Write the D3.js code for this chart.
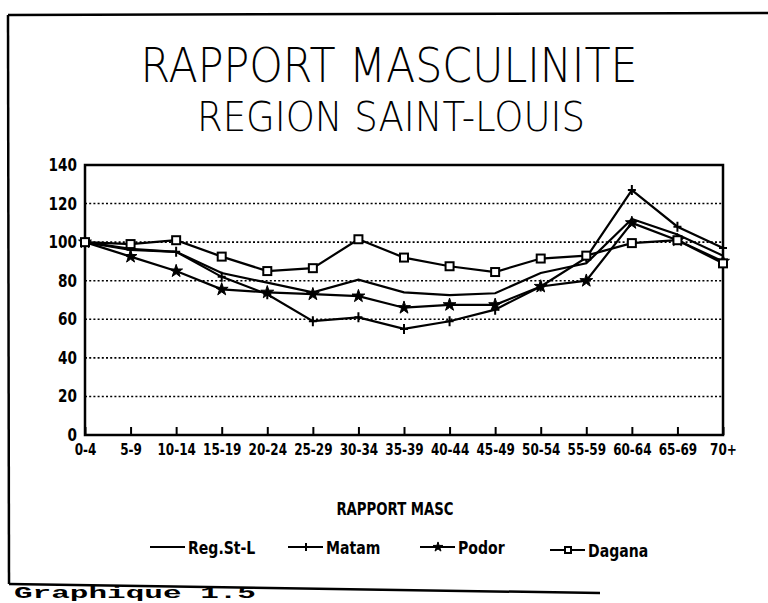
<!DOCTYPE html>
<html>
<head>
<meta charset="utf-8">
<script src="https://cdn.jsdelivr.net/npm/d3@7.9.0/dist/d3.min.js"></script>
<style>
  html, body { margin: 0; padding: 0; background: #fff; }
  svg { display: block; }
</style>
</head>
<body>
<div id="chart"></div>
<script>
"use strict";

// age groups (x axis)
const AGES = ["0-4", "5-9", "10-14", "15-19", "20-24", "25-29", "30-34", "35-39",
    "40-44", "45-49", "50-54", "55-59", "60-64", "65-69", "70+"];

// values
const REG_STL = [100, 96.5, 95, 84, 79, 74, 80.5, 74, 72.5, 73.5, 84, 89, 112, 104, 93];
const MATAM   = [100, 96, 95, 82, 73, 59, 61, 55, 59, 65, 77, 92, 127, 108, 97];
const PODOR   = [100, 92.5, 85, 75.5, 74, 73, 72, 66, 67.5, 67.5, 77, 80, 110, 101, 90];
const DAGANA  = [100, 99, 101, 92.5, 85, 86.5, 101.5, 92, 87.5, 84.5, 91.5, 93, 99.5, 101, 89];

const Y_TICKS = [0, 20, 40, 60, 80, 100, 120, 140];

const SERIES = [
    { name: "Reg.St-L", values: REG_STL, marker: "none" },
    { name: "Matam", values: MATAM, marker: "plus" },
    { name: "Podor", values: PODOR, marker: "star" },
    { name: "Dagana", values: DAGANA, marker: "square" },
];

const W = 768, H = 603;
const margin = { top: 165, right: 45, bottom: 168, left: 85 };
const width = W - margin.left - margin.right;
const height = H - margin.top - margin.bottom;

const LABEL_FONT = "'DejaVu Sans', sans-serif";
const TITLE_FONT = "'DejaVu Sans', sans-serif";

// squeeze bold labels horizontally to imitate the narrow plotter font
function condense(sel, k) {
    sel.each(function () {
        const len = this.getComputedTextLength();
        d3.select(this)
            .attr("textLength", len * k)
            .attr("lengthAdjust", "spacingAndGlyphs");
    });
}

const svg = d3.select("#chart").append("svg")
    .attr("width", W)
    .attr("height", H)
    .attr("viewBox", `0 0 ${W} ${H}`);

// page frame (scanned box)
const frame = svg.append("g")
    .attr("fill", "none")
    .attr("stroke", "#000")
    .attr("stroke-width", 2.5);
frame.append("line").attr("x1", 8).attr("y1", 15).attr("x2", 770).attr("y2", 13);
frame.append("line").attr("x1", 8).attr("y1", 15).attr("x2", 9).attr("y2", 584);
frame.append("line").attr("x1", 9).attr("y1", 584).attr("x2", 600).attr("y2", 593);

// titles
svg.append("text")
    .attr("x", 389).attr("y", 82)
    .attr("text-anchor", "middle")
    .attr("font-family", TITLE_FONT)
    .attr("font-weight", 200)
    .attr("font-size", 48)
    .attr("textLength", 497)
    .attr("lengthAdjust", "spacingAndGlyphs")
    .text("RAPPORT MASCULINITE");

svg.append("text")
    .attr("x", 391).attr("y", 131)
    .attr("text-anchor", "middle")
    .attr("font-family", TITLE_FONT)
    .attr("font-weight", 200)
    .attr("font-size", 40)
    .attr("textLength", 388)
    .attr("lengthAdjust", "spacingAndGlyphs")
    .text("REGION SAINT-LOUIS");

const g = svg.append("g")
    .attr("transform", `translate(${margin.left},${margin.top})`);

const x = d3.scalePoint()
    .domain(AGES)
    .range([0, width]);

const y = d3.scaleLinear()
    .domain([0, 140])
    .range([height, 0]);

// dotted gridlines
g.append("g")
    .selectAll("line")
    .data(Y_TICKS.filter((d) => d > 0 && d < 140))
    .join("line")
    .attr("x1", 0)
    .attr("x2", width)
    .attr("y1", (d) => y(d))
    .attr("y2", (d) => y(d))
    .attr("stroke", "#000")
    .attr("stroke-width", 1.6)
    .attr("stroke-dasharray", "2,2.2");

// y axis labels
const yAxis = g.append("g")
    .call(d3.axisLeft(y).tickValues(Y_TICKS).tickSize(0).tickPadding(8));
yAxis.select(".domain").remove();
yAxis.selectAll("text")
    .attr("font-family", LABEL_FONT)
    .attr("font-weight", "bold")
    .attr("font-size", 17)
    .attr("fill", "#000")
    .call(condense, 0.8);

// x axis: inward ticks + labels
const xAxis = g.append("g")
    .attr("transform", `translate(0,${height})`)
    .call(d3.axisBottom(x).tickSize(-8).tickPadding(9));
xAxis.select(".domain").remove();
xAxis.selectAll("line").attr("stroke", "#000").attr("stroke-width", 2);
xAxis.selectAll("text")
    .attr("font-family", LABEL_FONT)
    .attr("font-weight", "bold")
    .attr("font-size", 15)
    .attr("dy", "0.75em")
    .attr("fill", "#000")
    .call(condense, 0.8);

// plot box
g.append("rect")
    .attr("x", 0).attr("y", 0)
    .attr("width", width).attr("height", height)
    .attr("fill", "none")
    .attr("stroke", "#000")
    .attr("stroke-width", 2.5);

// lines
const line = d3.line()
    .x((d, i) => x(AGES[i]))
    .y((d) => y(d));

g.append("g")
    .selectAll("path")
    .data(SERIES)
    .join("path")
    .attr("d", (d) => line(d.values))
    .attr("fill", "none")
    .attr("stroke", "#000")
    .attr("stroke-width", 2.2);

function drawMarker(sel, kind, size) {
    const h = size / 2;
    if (kind === "plus") {
        sel.append("path")
            .attr("d", `M${-h},0H${h}M0,${-h - 1}V${h + 1}`)
            .attr("fill", "none")
            .attr("stroke", "#000")
            .attr("stroke-width", 2);
    } else if (kind === "star") {
        sel.append("path")
            .attr("d", d3.symbol(d3.symbolStar, size * size * 0.8)())
            .attr("fill", "#000")
            .attr("stroke", "#000")
            .attr("stroke-width", 1);
    } else if (kind === "square") {
        sel.append("rect")
            .attr("x", -h).attr("y", -h)
            .attr("width", size).attr("height", size)
            .attr("fill", "#fff")
            .attr("stroke", "#000")
            .attr("stroke-width", 2);
    }
}

// markers
for (const s of SERIES) {
    if (s.marker === "none") continue;
    g.append("g")
        .selectAll("g")
        .data(s.values)
        .join("g")
        .attr("transform", (d, i) => `translate(${x(AGES[i])},${y(d)})`)
        .each(function () { drawMarker(d3.select(this), s.marker, 8); });
}

// legend
svg.append("text")
    .attr("x", 395).attr("y", 515)
    .attr("text-anchor", "middle")
    .attr("font-family", LABEL_FONT)
    .attr("font-weight", "bold")
    .attr("font-size", 17)
    .text("RAPPORT MASC")
    .call(condense, 0.78);

const LEGEND_X = [150, 288, 420, 550];
const legend = svg.append("g")
    .selectAll("g")
    .data(SERIES)
    .join("g")
    .attr("transform", (d, i) => `translate(${LEGEND_X[i]},${i === 3 ? 550 : 547})`);

legend.append("line")
    .attr("x1", 0).attr("x2", 35)
    .attr("stroke", "#000")
    .attr("stroke-width", 2.2);

legend.each(function (d) {
    const m = d3.select(this).append("g").attr("transform", "translate(18,0)");
    drawMarker(m, d.marker, 6);
});

legend.append("text")
    .attr("x", 38)
    .attr("dy", "0.4em")
    .attr("font-family", LABEL_FONT)
    .attr("font-weight", "bold")
    .attr("font-size", 18)
    .text((d) => d.name)
    .call(condense, 0.78);

// caption below the frame (sits at the page edge)
svg.append("text")
    .attr("x", 14).attr("y", 598)
    .attr("font-family", "'Liberation Mono', 'DejaVu Sans Mono', monospace")
    .attr("font-weight", "bold")
    .attr("font-size", 16)
    .attr("textLength", 242)
    .attr("lengthAdjust", "spacingAndGlyphs")
    .text("Graphique 1.5");
</script>
</body>
</html>
